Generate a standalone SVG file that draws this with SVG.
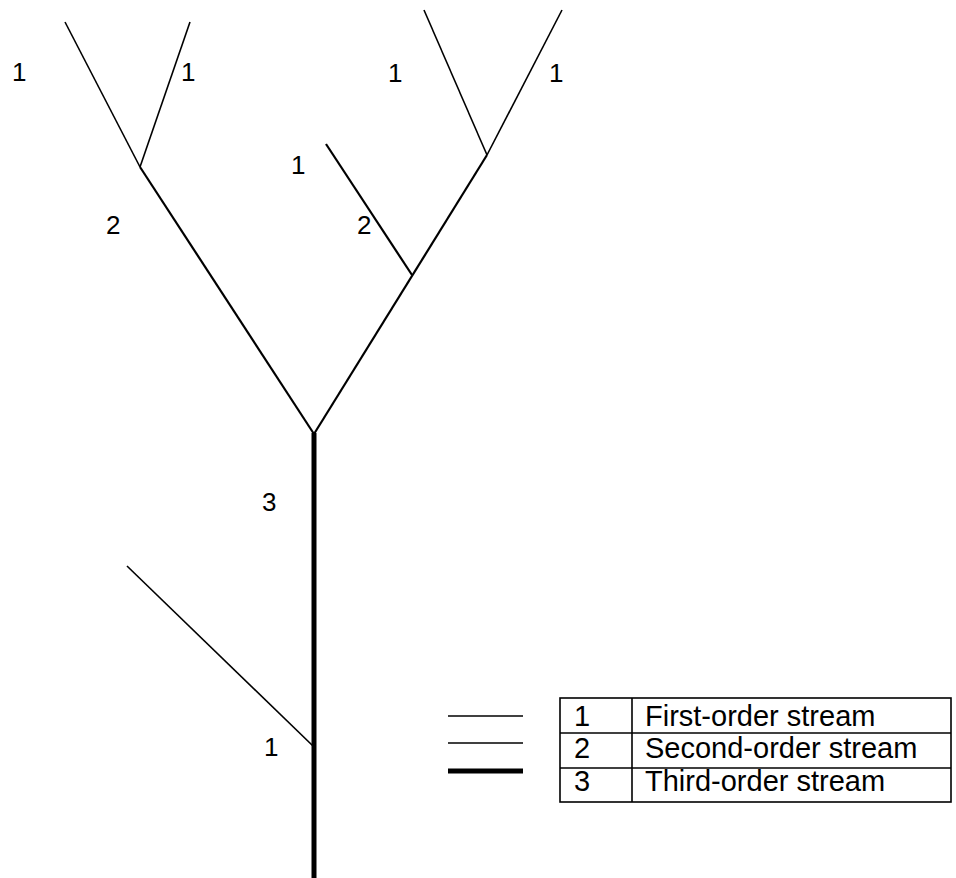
<svg xmlns="http://www.w3.org/2000/svg" width="956" height="878" viewBox="0 0 956 878">
<style>
  .lbl { font-family: "Liberation Sans", Arial, sans-serif; font-size: 26px; fill: #000; }
  .tbl { font-family: "Liberation Sans", Arial, sans-serif; font-size: 29px; fill: #000; }
  .o1 { stroke: #000; stroke-width: 1.6; fill: none; stroke-linecap: butt; }
  .o2 { stroke: #000; stroke-width: 2.2; fill: none; stroke-linecap: butt; }
  .o3 { stroke: #000; stroke-width: 5; fill: none; stroke-linecap: butt; }
  .grid { stroke: #000; stroke-width: 1.6; fill: none; }
</style>
<rect width="956" height="878" fill="#fff"/>
<g id="connectors">
  <line class="o1" x1="65" y1="22" x2="140" y2="167"/>
  <line class="o1" x1="190" y1="22" x2="140" y2="167"/>
  <line class="o1" x1="424" y1="10" x2="487" y2="155"/>
  <line class="o1" x1="562" y1="10" x2="487" y2="155"/>
  <line class="o2" x1="326" y1="144" x2="412" y2="275"/>
  <line class="o2" x1="140" y1="167" x2="314" y2="434"/>
  <line class="o2" x1="487" y1="155" x2="314" y2="434"/>
  <line class="o1" x1="127" y1="566" x2="313" y2="746"/>
  <line class="o3" x1="314" y1="433" x2="314" y2="878"/>
</g>
<g id="labels">
  <text class="lbl" x="12" y="81">1</text>
  <text class="lbl" x="181" y="81">1</text>
  <text class="lbl" x="388" y="82">1</text>
  <text class="lbl" x="549" y="82">1</text>
  <text class="lbl" x="291" y="174">1</text>
  <text class="lbl" x="106" y="234">2</text>
  <text class="lbl" x="357" y="234">2</text>
  <text class="lbl" x="262" y="511">3</text>
  <text class="lbl" x="264" y="756">1</text>
</g>
<g id="legend">
  <line class="o1" x1="448" y1="716" x2="523" y2="716"/>
  <line class="o1" x1="448" y1="743" x2="523" y2="743"/>
  <line class="o3" x1="448" y1="771" x2="523" y2="771"/>
  <rect class="grid" x="560" y="698" width="391" height="104"/>
  <line class="grid" x1="560" y1="733" x2="951" y2="733"/>
  <line class="grid" x1="560" y1="768" x2="951" y2="768"/>
  <line class="grid" x1="632" y1="698" x2="632" y2="802"/>
  <text class="tbl" x="574" y="726">1</text>
  <text class="tbl" x="645" y="726">First-order stream</text>
  <text class="tbl" x="574" y="758">2</text>
  <text class="tbl" x="645" y="758">Second-order stream</text>
  <text class="tbl" x="574" y="791">3</text>
  <text class="tbl" x="645" y="791">Third-order stream</text>
</g>
</svg>
